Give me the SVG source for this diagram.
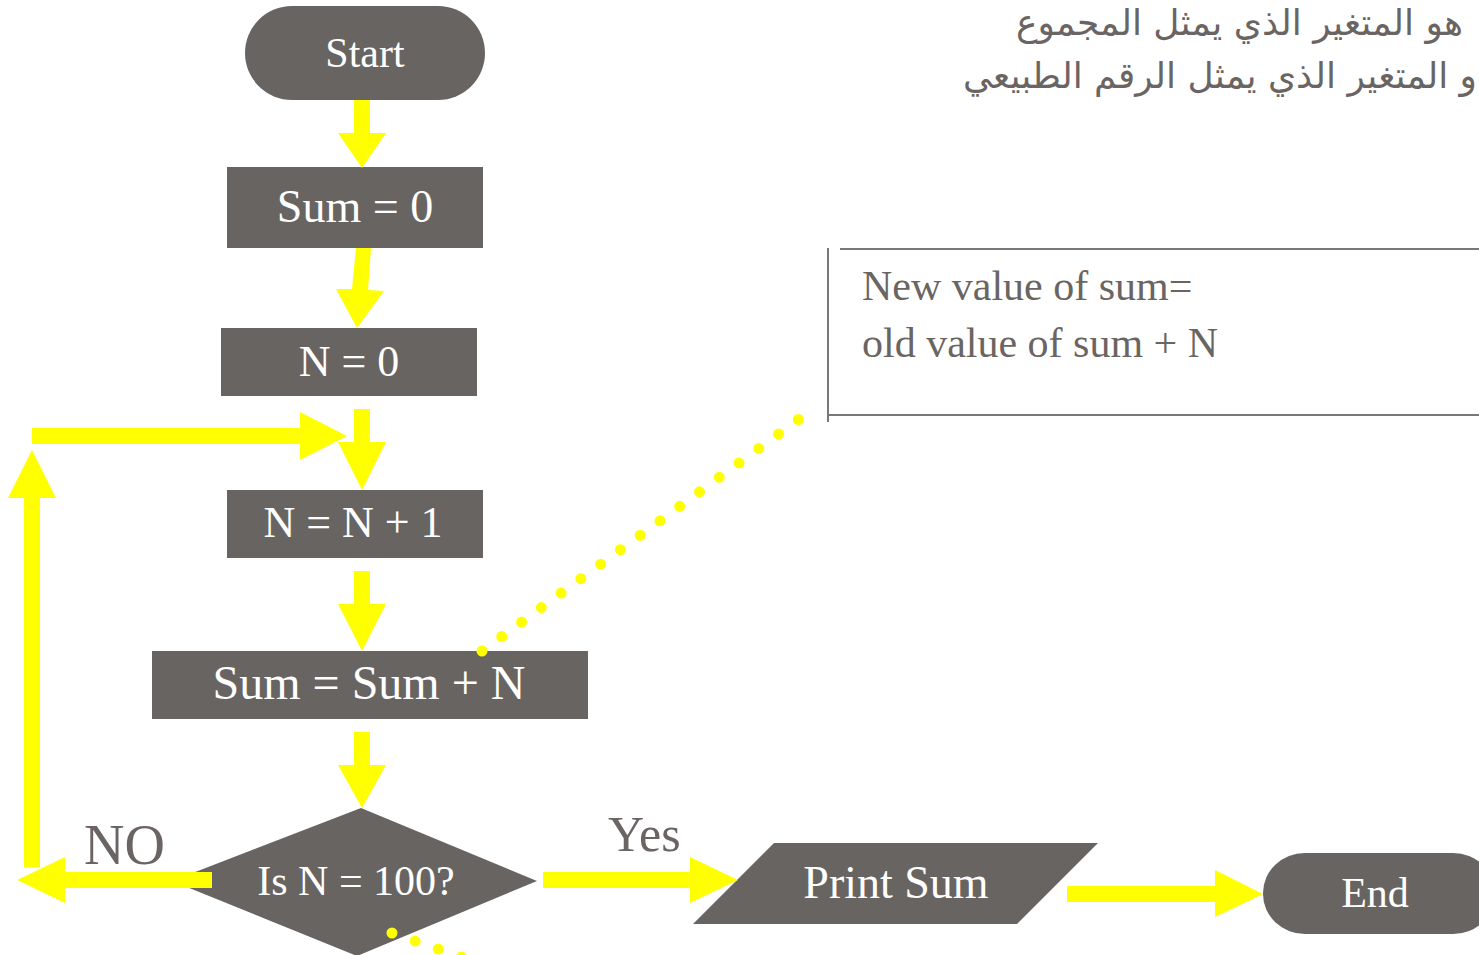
<svg xmlns="http://www.w3.org/2000/svg" width="1479" height="955" viewBox="0 0 1479 955">
<style>
.node{fill:#686462}
.lbl{font-family:"Liberation Serif","Times New Roman",serif;fill:#ffffff;text-anchor:middle}
.gray{font-family:"Liberation Serif","Times New Roman",serif;fill:#6a6563}
.arr{fill:#ffff00}
.dots{stroke:#ffff00;stroke-width:11;stroke-linecap:round;stroke-dasharray:0 24.5;fill:none}
.ar{font-family:"DejaVu Sans",sans-serif;fill:#6a6563;font-size:36px;text-anchor:end}
.box{stroke:#7a7777;stroke-width:2;fill:none}
</style>
<rect width="1479" height="955" fill="#ffffff"/>

<g id="arabic-note">
<text class="ar" x="1463" y="35">هو المتغير الذي يمثل المجموع</text>
<text class="ar" x="1477" y="88" font-size="35.5">و المتغير الذي يمثل الرقم الطبيعي</text>
</g>

<g id="start">
<rect class="node" x="245" y="6" width="240" height="94" rx="47" ry="47"/>
<text class="lbl" x="365" y="67" font-size="42">Start</text>
</g>
<g id="sum0">
<rect class="node" x="227" y="167" width="256" height="81"/>
<text class="lbl" x="355" y="222" font-size="46">Sum = 0</text>
</g>
<g id="n0">
<rect class="node" x="221" y="328" width="256" height="68"/>
<text class="lbl" x="349" y="376" font-size="44">N = 0</text>
</g>
<g id="ninc">
<rect class="node" x="227" y="490" width="256" height="68"/>
<text class="lbl" x="353" y="537" font-size="44">N = N + 1</text>
</g>
<g id="sumadd">
<rect class="node" x="152" y="651" width="436" height="68"/>
<text class="lbl" x="369" y="699" font-size="48">Sum = Sum + N</text>
</g>
<g id="decision">
<polygon class="node" points="361,808 537,881 357,956 172,881"/>
<text class="lbl" x="356" y="895" font-size="42">Is N = 100?</text>
</g>
<g id="print">
<polygon class="node" points="774,843 1098,843 1017,924 693,924"/>
<text class="lbl" x="896" y="898" font-size="46">Print Sum</text>
</g>
<g id="end">
<rect class="node" x="1263" y="853" width="232" height="81" rx="42" ry="40"/>
<text class="lbl" x="1375" y="907" font-size="42">End</text>
</g>
<g id="note">
<line class="box" x1="828" y1="248" x2="828" y2="422"/>
<line class="box" x1="840" y1="249" x2="1479" y2="249"/>
<line class="box" x1="828" y1="415" x2="1479" y2="415"/>
<text class="gray" x="862" y="300" font-size="42">New value of sum=</text>
<text class="gray" x="862" y="357" font-size="42">old value of sum + N</text>
</g>
<g id="labels">
<text class="gray" x="84" y="864" font-size="56">NO</text>
<text class="gray" x="608" y="851" font-size="50">Yes</text>
</g>

<g id="connectors">
<polygon class="arr" points="354,100 370,100 370,133 386,133 362,168 338,133 354,133"/>
<polygon class="arr" points="356,248 371,248 368,290 384,291 357,328 336,289 352,289"/>
<polygon class="arr" points="354,409 370,409 370,442 386,442 362,490 338,442 354,442"/>
<polygon class="arr" points="32,428 300,428 300,412 347,436 300,460 300,444 32,444"/>
<polygon class="arr" points="24,867 24,498 8,498 32,450 56,498 40,498 40,867"/>
<polygon class="arr" points="354,571 370,571 370,604 386,604 362,651 338,604 354,604"/>
<polygon class="arr" points="354,732 370,732 370,765 386,765 362,808 338,765 354,765"/>
<polygon class="arr" points="212,872 65,872 65,857 17,880 65,903 65,888 212,888"/>
<polygon class="arr" points="543,872 690,872 690,857 738,880 690,903 690,888 543,888"/>
<polygon class="arr" points="1067,886 1215,886 1215,870 1263,894 1215,917 1215,902 1067,902"/>
<line class="dots" x1="482" y1="651" x2="799" y2="419"/>
<line class="dots" x1="392" y1="933" x2="510" y2="974"/>
</g>
</svg>
